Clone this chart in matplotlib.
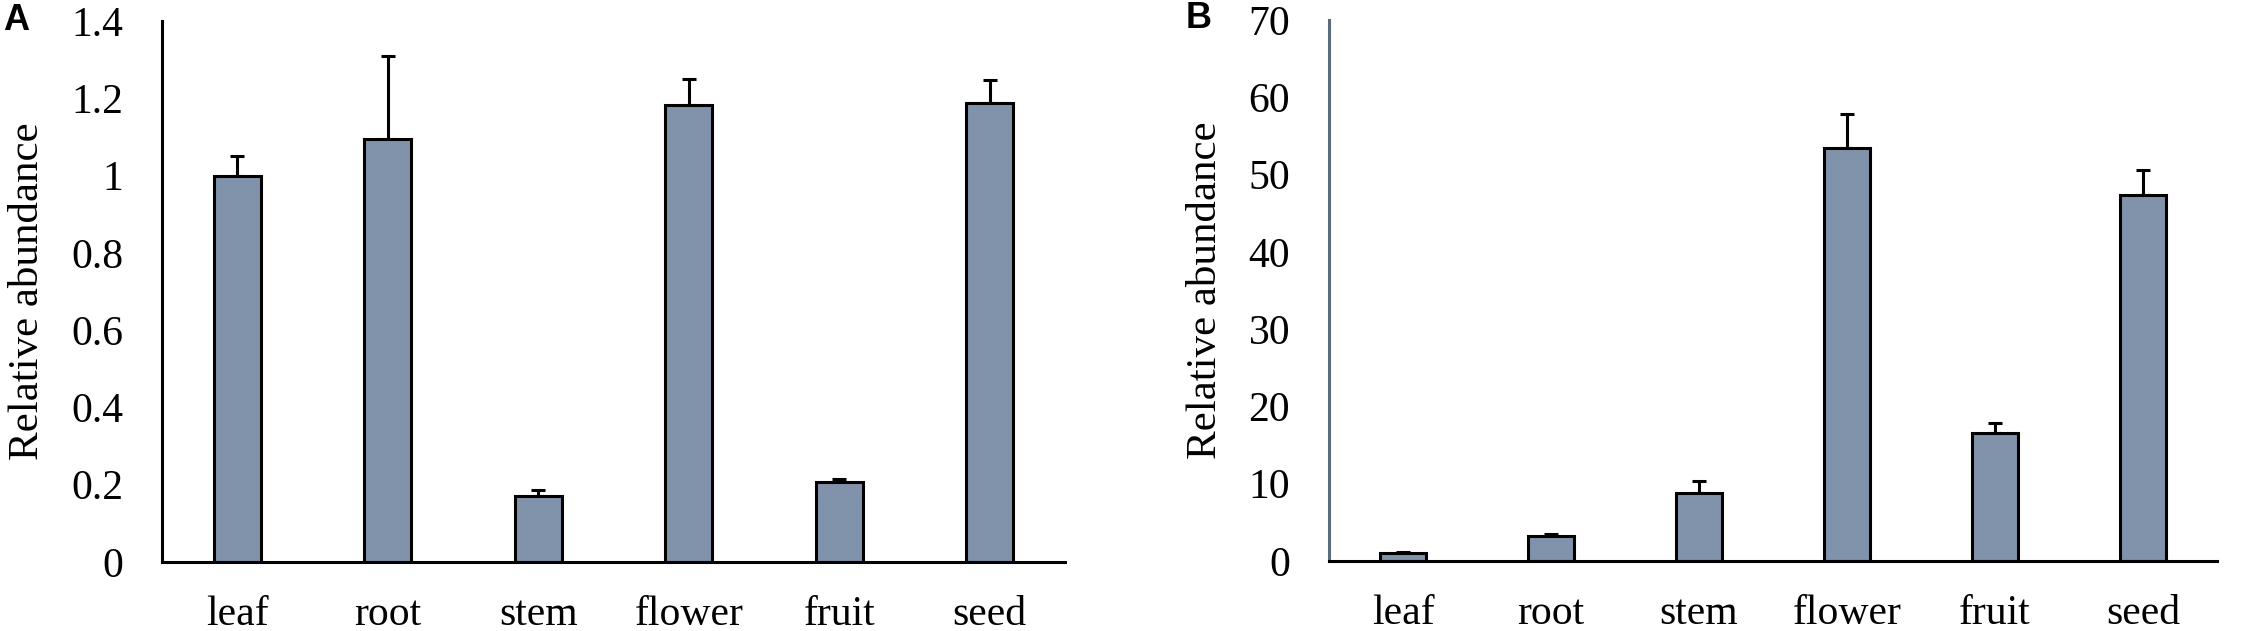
import matplotlib
matplotlib.use('Agg')
import matplotlib.pyplot as plt
import numpy as np

# tissues on the x axis
tissues = ['leaf', 'root', 'stem', 'flower', 'fruit', 'seed']

# panel A values and upper error
abund_a = [1.00, 1.095, 0.171, 1.183, 0.208, 1.187]
err_a = [0.05, 0.215, 0.016, 0.067, 0.006, 0.06]

# panel B values and upper error
abund_b = [1.0, 3.27, 8.8, 53.5, 16.5, 47.3]
err_b = [0.16, 0.26, 1.6, 4.4, 1.4, 3.3]

yticks_a = [0, 0.2, 0.4, 0.6, 0.8, 1, 1.2, 1.4]
ytick_labels_a = ['0', '0.2', '0.4', '0.6', '0.8', '1', '1.2', '1.4']
yticks_b = [0, 10, 20, 30, 40, 50, 60, 70]

bar_color = '#8093ab'
plt.rcParams['font.family'] = 'Liberation Serif'

fig = plt.figure(figsize=(22.48, 6.31), dpi=100)
ax_a = fig.add_axes([162 / 2248, 69 / 631, 903 / 2248, 541 / 631])
ax_b = fig.add_axes([1329 / 2248, 70 / 631, 888 / 2248, 541 / 631])


def draw_panel(ax, vals, errs, yticks, ylabels, ymax, spine_col):
    x = np.arange(len(tissues))
    ax.bar(x, vals, width=0.31, color=bar_color, edgecolor='black',
           linewidth=2.2, zorder=2)
    # only the upper half of the error bar is shown
    ax.errorbar(x, vals, yerr=[np.zeros(len(errs)), errs], fmt='none',
                ecolor='black', elinewidth=2.2, capsize=5, capthick=2.2,
                zorder=1)
    ax.set_xlim(-0.5, len(tissues) - 0.5)
    ax.set_ylim(0, ymax)
    ax.set_xticks(x)
    ax.set_xticklabels(tissues)
    ax.set_yticks(yticks)
    ax.set_yticklabels(ylabels)
    ax.tick_params(axis='both', length=0, labelsize=30)
    ax.tick_params(axis='y', pad=28)
    ax.tick_params(axis='x', pad=24)
    for s in ['top', 'right']:
        ax.spines[s].set_visible(False)
    ax.spines['left'].set_linewidth(2.2)
    ax.spines['left'].set_color(spine_col)
    ax.spines['bottom'].set_linewidth(2.2)
    ax.set_ylabel('Relative abundance', fontsize=31, labelpad=17)


draw_panel(ax_a, abund_a, err_a, yticks_a, ytick_labels_a, 1.4, 'black')
draw_panel(ax_b, abund_b, err_b, yticks_b, [str(v) for v in yticks_b], 70, '#5a6b7b')

fig.text(3 / 2248, 1 - 21 / 631, 'A', family='Liberation Sans', weight='bold',
         fontsize=26, va='center', ha='left')
fig.text(1186 / 2248, 1 - 19 / 631, 'B', family='Liberation Sans', weight='bold',
         fontsize=26, va='center', ha='left')

fig.savefig('out.png', dpi=100)
